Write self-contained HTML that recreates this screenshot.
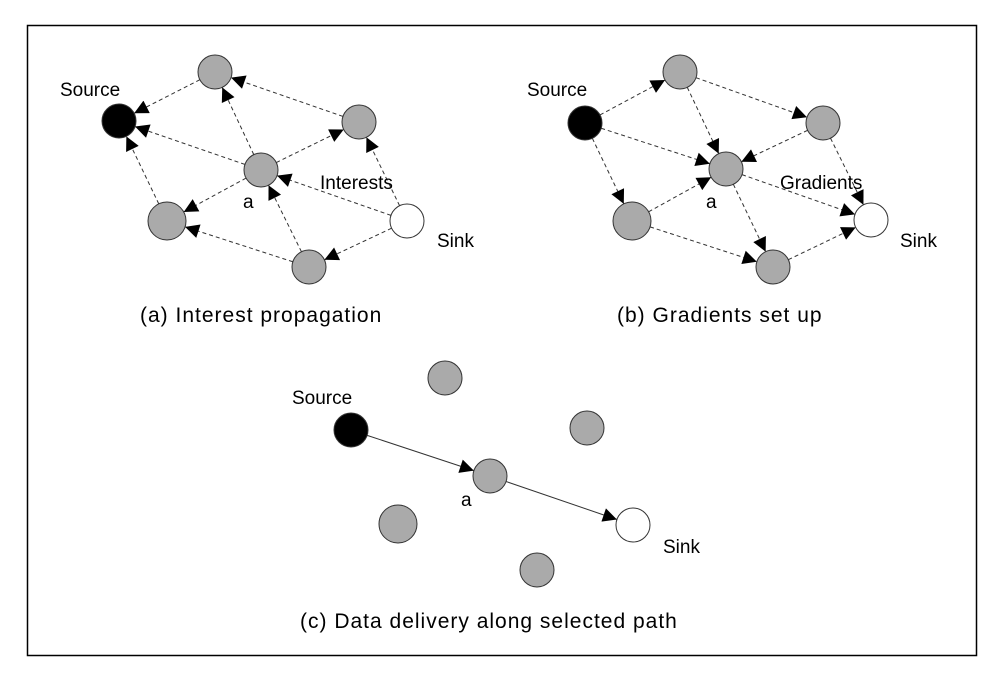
<!DOCTYPE html>
<html><head><meta charset="utf-8"><style>
html,body{margin:0;padding:0;background:#fff}
svg{display:block}
text{font-family:"Liberation Sans",Arial,sans-serif;fill:#000}
</style></head><body>
<svg id="s" width="1000" height="679" viewBox="0 0 1000 679" xmlns="http://www.w3.org/2000/svg">
<defs>
<marker id="ar" viewBox="0 0 10 10" refX="10" refY="5" markerWidth="17" markerHeight="14" markerUnits="userSpaceOnUse" orient="auto"><path d="M0,0 L10,5 L0,10 z" fill="#000"/></marker>
</defs>
<rect x="27.5" y="25.5" width="949" height="630" fill="none" stroke="#000" stroke-width="1.5"/>
<g id="edges"></g>
<g id="nodes"></g>
<g font-size="19">
<text x="60" y="96">Source</text>
<text x="243" y="208">a</text>
<text x="320" y="189">Interests</text>
<text x="437" y="247">Sink</text>
<text x="527" y="96">Source</text>
<text x="706" y="208">a</text>
<text x="780" y="189">Gradients</text>
<text x="900" y="247">Sink</text>
<text x="292" y="404">Source</text>
<text x="461" y="506">a</text>
<text x="663" y="553">Sink</text>
</g>
<g font-size="21" letter-spacing="1">
<text x="140" y="322">(a) Interest propagation</text>
<text x="617" y="322">(b) Gradients set up</text>
<text x="300" y="628">(c) Data delivery along selected path</text>
</g>
</svg>
<script>
var N={
A_t:[215,72,17,'g'],A_s:[119,121,17,'k'],A_r:[359,122,17,'g'],A_a:[261,170,17,'g'],A_bl:[167,221,19,'g'],A_k:[407,221,17,'w'],A_b:[309,267,17,'g'],
B_t:[680,72,17,'g'],B_s:[585,123,17,'k'],B_r:[823,123,17,'g'],B_a:[726,169,17,'g'],B_bl:[632,221,19,'g'],B_k:[871,220,17,'w'],B_b:[773,267,17,'g'],
C_t:[445,378,17,'g'],C_s:[351,430,17,'k'],C_r:[587,428,17,'g'],C_a:[490,476,17,'g'],C_bl:[398,524,19,'g'],C_k:[633,525,17,'w'],C_b:[537,570,17,'g']};
var E=[['A_t','A_s'],['A_r','A_t'],['A_a','A_s'],['A_a','A_t'],['A_a','A_r'],['A_a','A_bl'],['A_k','A_a'],['A_k','A_r'],['A_k','A_b'],['A_b','A_a'],['A_b','A_bl'],['A_bl','A_s'],
['B_s','B_t'],['B_s','B_a'],['B_s','B_bl'],['B_t','B_a'],['B_t','B_r'],['B_r','B_a'],['B_r','B_k'],['B_a','B_k'],['B_a','B_b'],['B_bl','B_a'],['B_bl','B_b'],['B_b','B_k'],
['C_s','C_a',1],['C_a','C_k',1]];
var ns='http://www.w3.org/2000/svg',eg=document.getElementById('edges'),ng=document.getElementById('nodes');
E.forEach(function(e){var a=N[e[0]],b=N[e[1]],dx=b[0]-a[0],dy=b[1]-a[1],d=Math.sqrt(dx*dx+dy*dy),ux=dx/d,uy=dy/d;
var l=document.createElementNS(ns,'line');l.setAttribute('x1',a[0]+ux*a[2]);l.setAttribute('y1',a[1]+uy*a[2]);
l.setAttribute('x2',b[0]-ux*b[2]);l.setAttribute('y2',b[1]-uy*b[2]);l.setAttribute('stroke','#333');l.setAttribute('stroke-width','1');
if(!e[2])l.setAttribute('stroke-dasharray','4,3');l.setAttribute('marker-end','url(#ar)');eg.appendChild(l);});
for(var k in N){var n=N[k],c=document.createElementNS(ns,'circle');c.setAttribute('cx',n[0]);c.setAttribute('cy',n[1]);c.setAttribute('r',n[2]);
c.setAttribute('fill',n[3]=='g'?'#aaaaaa':n[3]=='k'?'#000':'#fff');c.setAttribute('stroke','#333');c.setAttribute('stroke-width','1');ng.appendChild(c);}
</script>
</body></html>
